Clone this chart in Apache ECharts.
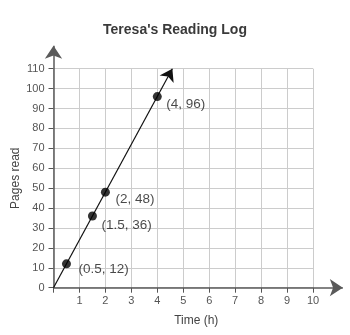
<!DOCTYPE html>
<html><head><meta charset="utf-8">
<script src="https://cdn.jsdelivr.net/npm/echarts@6/dist/echarts.min.js"></script>
<style>html,body{margin:0;padding:0;background:#fff}#c{width:350px;height:335px}</style>
</head><body><div id="c"></div>
<script>
var titleText = "Teresa's Reading Log";
var xName = "Time (h)";
var yName = "Pages read";
var pointX = [0.5, 1.5, 2, 4];
var pointY = [12, 36, 48, 96];
var labelOffsets = [[2.5, 5], [-0.5, 9], [0.5, 7], [-0.5, 8]];
var lineX = [0, 4.58];
var lineY = [0, 110];
var xAxisArrow = [[0, 0], [11.15, 0]];
var yAxisArrow = [[0, 0], [0, 121.5]];

var chart = echarts.init(document.getElementById('c'));
var font = 'Liberation Sans, Arial, sans-serif';
chart.setOption({
  animation: false,
  title: { text: titleText, left: 'center', top: 18,
    textStyle: { fontFamily: font, fontSize: 14, fontWeight: 'bold', color: '#3a3a3a' } },
  grid: { left: 53.5, right: 37, top: 68.7, bottom: 47.3, containLabel: false, outerBoundsMode: 'none' },
  xAxis: { type: 'value', min: 0, max: 10, interval: 1,
    name: xName, nameLocation: 'middle', nameGap: 27, nameMoveOverlap: false,
    nameTextStyle: { fontFamily: font, fontSize: 12, color: '#444', padding: [0, 0, 0, 26] },
    axisLine: { show: false },
    axisTick: { show: true, length: 5, lineStyle: { color: '#555' } },
    axisLabel: { fontFamily: font, fontSize: 11, color: '#555', margin: 8,
      formatter: function (v) { return v === 0 ? '' : v; } },
    splitLine: { show: true, lineStyle: { color: '#cccccc', width: 1 } } },
  yAxis: { type: 'value', min: 0, max: 110, interval: 10,
    name: yName, nameLocation: 'middle', nameGap: 32, nameRotate: 90, nameMoveOverlap: false,
    nameTextStyle: { fontFamily: font, fontSize: 12, color: '#444' },
    axisLine: { show: false },
    axisTick: { show: true, length: 5, lineStyle: { color: '#555' } },
    axisLabel: { fontFamily: font, fontSize: 11, color: '#555', margin: 9 },
    splitLine: { show: true, lineStyle: { color: '#cccccc', width: 1 } } },
  series: [
    { type: 'lines', coordinateSystem: 'cartesian2d', clip: false, silent: true,
      symbol: ['none', 'arrow'], symbolSize: 13,
      lineStyle: { color: '#5a5a5a', width: 1.5, opacity: 1 },
      data: [{ coords: xAxisArrow }, { coords: yAxisArrow }], z: 3 },
    { type: 'lines', coordinateSystem: 'cartesian2d', clip: false, silent: true,
      symbol: ['none', 'arrow'], symbolSize: 12,
      lineStyle: { color: '#111', width: 1.2, opacity: 1 },
      data: [{ coords: [[lineX[0], lineY[0]], [lineX[1], lineY[1]]] }], z: 4 },
    { type: 'scatter', symbol: 'circle', symbolSize: 9, silent: true,
      itemStyle: { color: '#000' },
      label: { show: true, position: 'right',
        fontFamily: font, fontSize: 13.5, color: '#1a1a1a',
        formatter: function (p) { return '(' + p.value[0] + ', ' + p.value[1] + ')'; } },
      data: pointX.map(function (x, i) {
        return { value: [x, pointY[i]], label: { offset: labelOffsets[i] } };
      }), z: 5 }
  ]
});
</script></body></html>
